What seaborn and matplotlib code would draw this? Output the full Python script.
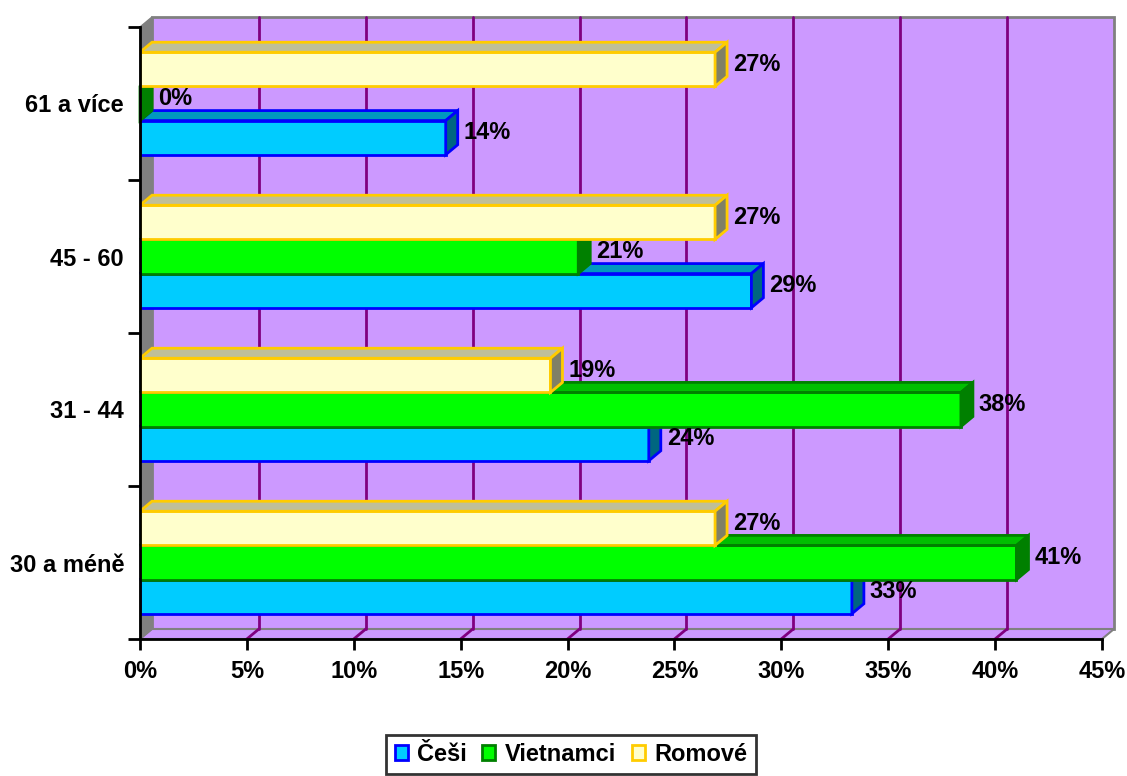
import numpy as np
import pandas as pd
import matplotlib
matplotlib.use("Agg")
import matplotlib.pyplot as plt
import seaborn as sns
from matplotlib.patches import Polygon, Patch

# ---- data ----
categories = ["61 a více", "45 - 60", "31 - 44", "30 a méně"]   # top to bottom
series = ["Češi", "Vietnamci", "Romové"]
cesi = [14.3, 28.6, 23.8, 33.3]
vietnamci = [0.0, 20.5, 38.4, 41.0]
romove = [26.9, 26.9, 19.2, 26.9]
x_ticks = [0, 5, 10, 15, 20, 25, 30, 35, 40, 45]

face = {"Češi": "#00CCFF", "Vietnamci": "#00FF00", "Romové": "#FFFFCC"}
edge = {"Češi": "#0000FF", "Vietnamci": "#008000", "Romové": "#FFCC00"}
top_c = {"Češi": "#0099BF", "Vietnamci": "#00BF00", "Romové": "#BFBF99"}
side_c = {"Češi": "#006680", "Vietnamci": "#008000", "Romové": "#808066"}

df = pd.DataFrame({
    "cat": categories * 3,
    "series": ["Češi"] * 4 + ["Vietnamci"] * 4 + ["Romové"] * 4,
    "val": cesi + vietnamci + romove,
})

sns.set_theme(style="white")
plt.rcParams["font.family"] = ["Liberation Sans", "DejaVu Sans"]
plt.rcParams["font.weight"] = "bold"
for k in ["text.color", "axes.labelcolor", "xtick.color", "ytick.color",
          "xtick.labelcolor", "ytick.labelcolor"]:
    plt.rcParams[k] = "black"
FS = 17

fig = plt.figure(figsize=(11.27, 7.76), dpi=100)
ax = fig.add_axes([140 / 1127, 1 - 639 / 776, 962 / 1127, 612 / 776])
hue_order = ["Romové", "Vietnamci", "Češi"]  # top to bottom within a group
sns.barplot(data=df, y="cat", x="val", hue="series", order=categories,
            hue_order=hue_order, palette=face, orient="h", width=0.67,
            ax=ax, legend=False, saturation=1)
ax.set_xlim(0, 45)
ax.set_ylim(3.5, -0.5)
ax.set_facecolor("none")
ax.set_xlabel("")
ax.set_ylabel("")

DX, DY = 12, 10  # depth offset in pixels


def off(x, y, fx=1.0):
    p = ax.transData.transform((x, y))
    return ax.transData.inverted().transform(p + np.array([DX * fx, DY * fx]))


y0, y1 = 3.5, -0.5
# back wall
wall = Polygon([off(0, y0), off(45, y0), off(45, y1), off(0, y1)], closed=True,
               facecolor="#CC99FF", edgecolor="#808080", lw=2, zorder=0, clip_on=False)
ax.add_patch(wall)
# floor
floor = Polygon([(0, y0), (45, y0), off(45, y0), off(0, y0)], closed=True,
                facecolor="#CC99FF", edgecolor="#808080", lw=1.5, zorder=0.1, clip_on=False)
ax.add_patch(floor)
# left side wall
side = Polygon([(0, y0), (0, y1), off(0, y1), off(0, y0)], closed=True,
               facecolor="#808080", edgecolor="#808080", lw=1, zorder=0.1, clip_on=False)
ax.add_patch(side)
# gridlines on wall and floor
for xv in x_ticks[1:-1]:
    a, b = off(xv, y0), off(xv, y1)
    ax.plot([a[0], b[0]], [a[1], b[1]], color="#800080", lw=2, zorder=0.2, clip_on=False)
    c = off(xv, y0)
    ax.plot([xv, c[0]], [y0, c[1]], color="#800080", lw=2, zorder=0.2, clip_on=False)

# bars with depth
for cont, s in zip(ax.containers, hue_order):
    for bar in cont:
        x0 = bar.get_x()
        w = bar.get_width()
        yt = bar.get_y()
        h = bar.get_height()
        yc = yt + h / 2
        z = 5 - yc  # higher on screen drawn later
        bar.set_facecolor(face[s])
        bar.set_edgecolor(edge[s])
        bar.set_linewidth(2)
        bar.set_zorder(z)
        x1 = x0 + w
        topf = Polygon([(x0, yt), (x1, yt), off(x1, yt), off(x0, yt)], closed=True,
                       facecolor=top_c[s], edgecolor=edge[s], lw=2, zorder=z, clip_on=False)
        sidef = Polygon([(x1, yt), (x1, yt + h), off(x1, yt + h), off(x1, yt)], closed=True,
                        facecolor=side_c[s], edgecolor=edge[s], lw=2, zorder=z, clip_on=False)
        ax.add_patch(topf)
        ax.add_patch(sidef)
        # label
        lp = ax.transData.transform((x1, yc)) + np.array([DX + 6, 5])
        lx, ly = ax.transData.inverted().transform(lp)
        ax.text(lx, ly, f"{int(w + 0.5)}%", ha="left", va="center", fontsize=FS,
                fontweight="bold", color="black", zorder=20)

# axes styling
for sp in ["top", "right"]:
    ax.spines[sp].set_visible(False)
for sp in ["left", "bottom"]:
    ax.spines[sp].set_color("black")
    ax.spines[sp].set_linewidth(2)
    ax.spines[sp].set_zorder(15)

ax.set_xticks(x_ticks)
ax.set_xticklabels([f"{t}%" for t in x_ticks], fontsize=FS, fontweight="bold", color="black")
ax.tick_params(axis="x", direction="out", length=8, width=2, color="black", pad=7,
               bottom=True, labelcolor="black")
ax.set_yticks([3.5, 2.5, 1.5, 0.5, -0.5])
ax.set_yticklabels([])
ax.set_yticks(range(len(categories)), minor=True)
ax.set_yticklabels(categories, minor=True, fontsize=FS, fontweight="bold", color="black")
ax.tick_params(axis="y", which="major", direction="out", length=8.5, width=2, color="black", left=True)
ax.tick_params(axis="y", which="minor", length=0, pad=11.5, labelcolor="black")
ax.grid(False)

handles = [Patch(facecolor=face[s], edgecolor=edge[s], lw=2, label=s) for s in series]
leg = fig.legend(handles=handles, loc="center", bbox_to_anchor=(571 / 1127, 0.028), ncol=3,
                 frameon=True, fancybox=False, edgecolor="black", fontsize=FS,
                 handlelength=0.55, handleheight=0.55, handletextpad=0.42, columnspacing=0.64,
                 borderpad=0.35, borderaxespad=0, labelcolor="black")
leg.get_frame().set_linewidth(2)
for t in leg.get_texts():
    t.set_fontweight("bold")

fig.savefig("out.png", dpi=100, facecolor="white")
